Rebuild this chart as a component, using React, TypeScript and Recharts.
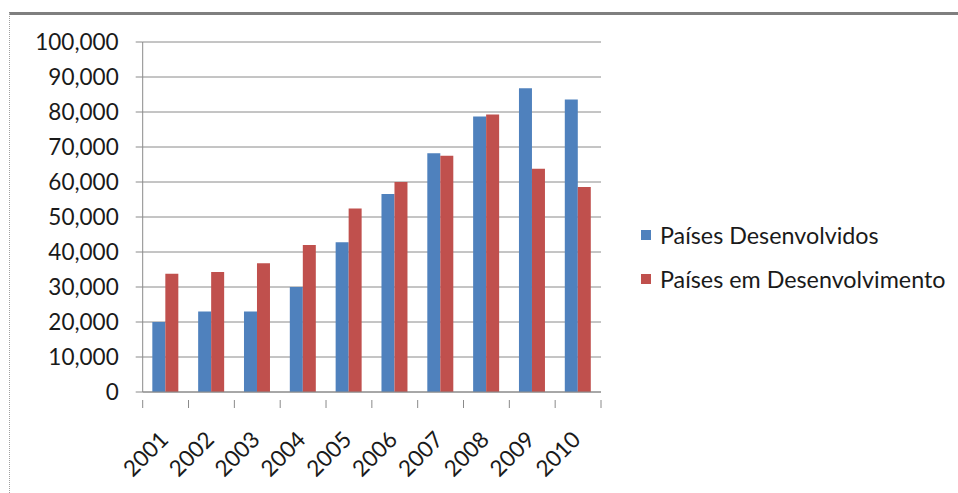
import { BarChart, Bar, XAxis, YAxis, CartesianGrid, Legend } from "recharts";

const years = ["2001", "2002", "2003", "2004", "2005", "2006", "2007", "2008", "2009", "2010"];
const desenvolvidos = [20000, 23000, 23000, 30000, 42800, 56600, 68200, 78700, 86800, 83600];
const emDesenvolvimento = [33800, 34300, 36800, 42000, 52400, 60000, 67500, 79300, 63800, 58600];
const yTicks = [0, 10000, 20000, 30000, 40000, 50000, 60000, 70000, 80000, 90000, 100000];

const data = years.map((year, i) => ({
  year,
  dev: desenvolvidos[i],
  emdev: emDesenvolvimento[i],
}));

const FONT = "Lato, 'Open Sans', sans-serif";
const GRID = "#8a8a8a";
const BLUE = "#4f81bd";
const RED = "#c0504d";

function YearTick(props: any) {
  const { x, y, payload, index } = props;
  const half = payload && payload.offset ? payload.offset : 22.9;
  const last = index === years.length - 1;
  return (
    <g>
      <line x1={x - half} y1={y} x2={x - half} y2={y + 8} stroke={GRID} />
      {last && <line x1={x + half} y1={y} x2={x + half} y2={y + 8} stroke={GRID} />}
      <text
        x={x + 4}
        y={y + 41}
        transform={`rotate(-45, ${x + 4}, ${y + 41})`}
        textAnchor="end"
        fontSize={22.5}
        fontFamily={FONT}
        fill="#1a1a1a"
      >
        {payload.value}
      </text>
    </g>
  );
}

function LegendBox({ payload }: any) {
  return (
    <div style={{ fontFamily: FONT, fontSize: 23.3, color: "#1a1a1a" }}>
      {payload.map((p: any) => (
        <div key={p.value} style={{ display: "flex", alignItems: "center", height: 44 }}>
          <span style={{ width: 10, height: 10, background: p.color, marginRight: 9, display: "inline-block" }} />
          <span>{p.value}</span>
        </div>
      ))}
    </div>
  );
}

export default function App() {
  return (
    <div style={{ position: "absolute", left: 0, top: 0, width: 958, height: 493, background: "#fff" }}>
      <div
        style={{
          position: "absolute",
          left: 9,
          top: 12,
          width: 960,
          height: 490,
          borderTop: "3px solid #7f7f7f",
          borderLeft: "1px dotted #a0a0a0",
        }}
      />
      <BarChart
        width={958}
        height={493}
        data={data}
        margin={{ top: 42, right: 357, bottom: 0, left: 0 }}
        barGap={0}
        barCategoryGap="21%"
        style={{ position: "absolute", left: 0, top: 0 }}
      >
        <CartesianGrid vertical={false} stroke={GRID} />
        <XAxis
          dataKey="year"
          axisLine={{ stroke: GRID }}
          tickLine={false}
          tick={<YearTick />}
          interval={0}
          height={101}
        />
        <YAxis
          width={142.7}
          domain={[0, 100000]}
          ticks={yTicks}
          interval={0}
          tickFormatter={(v: number) => v.toLocaleString("en-US")}
          axisLine={{ stroke: GRID }}
          tickLine={{ stroke: GRID }}
          tickSize={7}
          tickMargin={17}
          tick={{ fontSize: 22.5, fontFamily: FONT, fill: "#1a1a1a" }}
        />
        <Legend
          layout="vertical"
          align="center"
          verticalAlign="middle"
          content={<LegendBox />}
          wrapperStyle={{ position: "absolute", left: 641, top: 213, width: 320 }}
        />
        <Bar dataKey="dev" name="Países Desenvolvidos" fill={BLUE} isAnimationActive={false} />
        <Bar dataKey="emdev" name="Países em Desenvolvimento" fill={RED} isAnimationActive={false} />
      </BarChart>
    </div>
  );
}
